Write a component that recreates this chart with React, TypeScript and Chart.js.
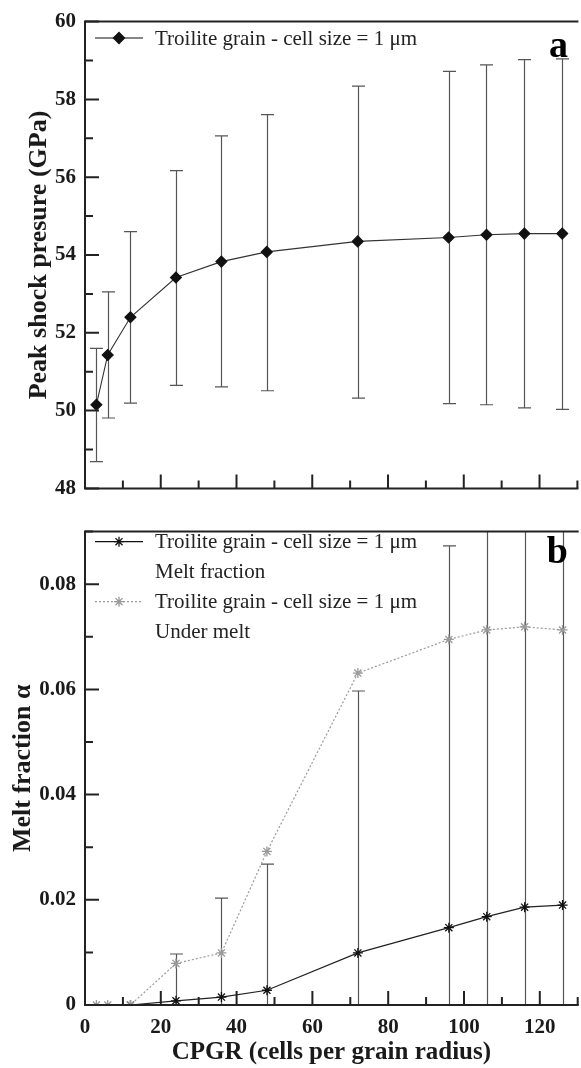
import React, { useEffect, useRef } from 'react';
import { Chart, registerables } from 'chart.js';
import { drawPoint } from 'chart.js/helpers';

Chart.register(...registerables);

// ---------- data ----------
const cpgrA = [3, 6, 12, 24, 36, 48, 72, 96, 106, 116, 126];
const pressureMean = [50.15, 51.43, 52.4, 53.42, 53.83, 54.08, 54.35, 54.45, 54.52, 54.55, 54.55];
const pressureHigh = [51.6, 53.05, 54.6, 56.17, 57.06, 57.61, 58.34, 58.72, 58.89, 59.02, 59.04];
const pressureLow = [48.69, 49.81, 50.19, 50.65, 50.61, 50.51, 50.32, 50.18, 50.15, 50.07, 50.03];

const cpgrMelt = [12, 24, 36, 48, 72, 96, 106, 116, 126];
const meltFraction = [0, 0.0008, 0.0015, 0.0028, 0.0099, 0.0147, 0.0168, 0.0186, 0.019];
const cpgrUnder = [3, 6, 12, 24, 36, 48, 72, 96, 106, 116, 126];
const underMelt = [0, 0, 0, 0.0079, 0.0099, 0.0292, 0.0631, 0.0695, 0.0713, 0.0719, 0.0713];
const cpgrErrB = [24, 36, 48, 72, 96, 106, 116, 126];
const meltHigh = [0.0097, 0.0203, 0.0268, 0.0597, 0.0873, 0.1, 0.11, 0.12];
const meltLow = [-0.008, -0.017, -0.021, -0.04, -0.058, -0.07, -0.08, -0.09];

const xMajorTicks = [0, 20, 40, 60, 80, 100, 120];
const xMinorTicks = [10, 30, 50, 70, 90, 110, 130];
const yMajorTicksA = [48, 50, 52, 54, 56, 58, 60];
const yMinorTicksA = [49, 51, 53, 55, 57, 59];
const yMajorTicksB = [0, 0.02, 0.04, 0.06, 0.08];
const yMinorTicksB = [0.01, 0.03, 0.05, 0.07, 0.09];

const legendLabel = 'Troilite grain - cell size = 1 μm';

const SERIF = '"Liberation Serif", "Times New Roman", serif';
const AXIS = '#222';

// ---------- plugins ----------
function errorBarPlugin(xs: number[], lo: number[], hi: number[]) {
  return {
    id: 'errbars',
    beforeDatasetsDraw(chart: any) {
      const { ctx, chartArea } = chart;
      const sx = chart.scales.x;
      const sy = chart.scales.y;
      ctx.save();
      ctx.beginPath();
      ctx.rect(chartArea.left, chartArea.top, chartArea.right - chartArea.left, chartArea.bottom - chartArea.top);
      ctx.clip();
      ctx.strokeStyle = '#555';
      ctx.lineWidth = 1.2;
      xs.forEach((xv, i) => {
        const px = Math.round(sx.getPixelForValue(xv)) + 0.5;
        const pl = sy.getPixelForValue(lo[i]);
        const ph = sy.getPixelForValue(hi[i]);
        ctx.beginPath();
        ctx.moveTo(px, pl);
        ctx.lineTo(px, ph);
        ctx.moveTo(px - 6.5, ph);
        ctx.lineTo(px + 6.5, ph);
        ctx.moveTo(px - 6.5, pl);
        ctx.lineTo(px + 6.5, pl);
        ctx.stroke();
      });
      ctx.restore();
    },
  };
}

function framePlugin(yMajor: number[], yMinor: number[]) {
  return {
    id: 'frame',
    afterDraw(chart: any) {
      const { ctx, chartArea } = chart;
      const { left, right, top, bottom } = chartArea;
      const sx = chart.scales.x;
      const sy = chart.scales.y;
      ctx.save();
      ctx.strokeStyle = AXIS;
      ctx.lineWidth = 2;
      ctx.lineCap = 'square';
      ctx.beginPath();
      ctx.moveTo(left, top);
      ctx.lineTo(right, top);
      ctx.moveTo(left, top);
      ctx.lineTo(left, bottom);
      ctx.lineTo(right, bottom);
      ctx.stroke();
      ctx.lineCap = 'butt';
      ctx.beginPath();
      xMajorTicks.forEach((v) => {
        const p = sx.getPixelForValue(v);
        ctx.moveTo(p, bottom);
        ctx.lineTo(p, bottom - 14);
      });
      xMinorTicks.forEach((v) => {
        const p = sx.getPixelForValue(v);
        ctx.moveTo(p, bottom);
        ctx.lineTo(p, bottom - 8);
      });
      yMajor.forEach((v) => {
        const p = sy.getPixelForValue(v);
        ctx.moveTo(left, p);
        ctx.lineTo(left + 14, p);
      });
      yMinor.forEach((v) => {
        const p = sy.getPixelForValue(v);
        ctx.moveTo(left, p);
        ctx.lineTo(left + 8, p);
      });
      ctx.stroke();
      ctx.restore();
    },
  };
}

type LegendRow = { text: string; color?: string; dash?: number[]; style?: string };

function legendPlugin(rows: LegendRow[], firstY: number, panelLetter: string, letterY: number) {
  return {
    id: 'customLegend',
    afterDraw(chart: any) {
      const { ctx, chartArea } = chart;
      const x0 = chartArea.left + 10;
      const x1 = chartArea.left + 58;
      const tx = chartArea.left + 70;
      ctx.save();
      rows.forEach((r, i) => {
        const y = firstY + i * 30;
        if (r.color) {
          ctx.strokeStyle = r.color;
          ctx.fillStyle = r.color;
          ctx.lineWidth = 1.2;
          ctx.setLineDash(r.dash || []);
          ctx.beginPath();
          ctx.moveTo(x0, y);
          ctx.lineTo(x1, y);
          ctx.stroke();
          ctx.setLineDash([]);
          ctx.lineWidth = 1.3;
          drawPoint(ctx, { pointStyle: r.style, radius: r.style === 'rectRot' ? 5.5 : 5, rotation: 0, borderWidth: 1.3 } as any, (x0 + x1) / 2, y);
        }
        ctx.fillStyle = '#222';
        ctx.font = `21px ${SERIF}`;
        ctx.textAlign = 'left';
        ctx.textBaseline = 'middle';
        ctx.fillText(r.text, tx, y + 1);
      });
      ctx.fillStyle = '#000';
      ctx.font = `bold 38px ${SERIF}`;
      ctx.textAlign = 'right';
      ctx.textBaseline = 'alphabetic';
      ctx.fillText(panelLetter, 568, letterY);
      ctx.restore();
    },
  };
}

function fixedTicks(values: number[]) {
  return (scale: any) => {
    scale.ticks = values.map((v) => ({ value: v }));
  };
}

const tickFont = { family: SERIF, size: 21, weight: 'bold' as const };
const titleFontA = { family: SERIF, size: 26, weight: 'bold' as const, lineHeight: 1.2 };
const titleFontB = { family: SERIF, size: 26, weight: 'bold' as const, lineHeight: 1.2 };
const titleFontX = { family: SERIF, size: 25, weight: 'bold' as const, lineHeight: 1.2 };

export default function App() {
  const refA = useRef<HTMLCanvasElement>(null);
  const refB = useRef<HTMLCanvasElement>(null);

  useEffect(() => {
    const chartA = new Chart(refA.current!, {
      type: 'line',
      data: {
        datasets: [
          {
            data: cpgrA.map((x, i) => ({ x, y: pressureMean[i] })),
            borderColor: '#333',
            borderWidth: 1.1,
            pointStyle: 'rectRot',
            pointRadius: 5.5,
            pointBackgroundColor: '#111',
            pointBorderColor: '#111',
            tension: 0,
          },
        ],
      },
      options: {
        animation: false,
        responsive: false,
        devicePixelRatio: 1,
        layout: { padding: { top: 18, bottom: 8, left: 0, right: 0 } },
        plugins: { legend: { display: false }, tooltip: { enabled: false } },
        scales: {
          x: { type: 'linear', min: 0, max: 130, display: false },
          y: {
            type: 'linear',
            min: 48,
            max: 60,
            afterBuildTicks: fixedTicks(yMajorTicksA),
            afterFit: (s: any) => { s.width = 85; },
            grid: { display: false, drawTicks: false },
            border: { display: false },
            ticks: { font: tickFont, color: '#1a1a1a', padding: 9, callback: (v: any) => String(v) },
            title: { display: true, text: 'Peak shock presure (GPa)', font: titleFontA, color: '#1a1a1a', padding: { top: 24, bottom: 0 } },
          },
        },
      },
      plugins: [
        errorBarPlugin(cpgrA, pressureLow, pressureHigh),
        framePlugin(yMajorTicksA, yMinorTicksA),
        legendPlugin([{ text: legendLabel, color: '#111', style: 'rectRot' }], 38, 'a', 57),
      ],
    } as any);

    const chartB = new Chart(refB.current!, {
      type: 'line',
      data: {
        datasets: [
          {
            data: cpgrMelt.map((x, i) => ({ x, y: meltFraction[i] })),
            borderColor: '#222',
            borderWidth: 1.2,
            pointStyle: 'star',
            pointRadius: 5,
            pointBorderWidth: 1.3,
            pointBorderColor: '#111',
            pointBackgroundColor: '#111',
            tension: 0,
            order: 1,
          },
          {
            data: cpgrUnder.map((x, i) => ({ x, y: underMelt[i] })),
            borderColor: '#9a9a9a',
            borderWidth: 1.2,
            borderDash: [2, 2],
            pointStyle: 'star',
            pointRadius: 5,
            pointBorderWidth: 1.3,
            pointBorderColor: '#999',
            pointBackgroundColor: '#999',
            tension: 0,
            order: 0,
          },
        ],
      },
      options: {
        animation: false,
        responsive: false,
        devicePixelRatio: 1,
        layout: { padding: { top: 11, bottom: 0, left: 0, right: 0 } },
        plugins: { legend: { display: false }, tooltip: { enabled: false } },
        scales: {
          x: {
            type: 'linear',
            min: 0,
            max: 130,
            afterBuildTicks: fixedTicks(xMajorTicks),
            afterFit: (s: any) => { s.height = 63; },
            grid: { display: false, drawTicks: false },
            border: { display: false },
            ticks: { font: tickFont, color: '#1a1a1a', padding: 10, maxRotation: 0, callback: (v: any) => String(v) },
            title: { display: true, text: 'CPGR (cells per grain radius)', font: titleFontX, color: '#1a1a1a', padding: { top: 0, bottom: 0 } },
          },
          y: {
            type: 'linear',
            min: 0,
            max: 0.09,
            afterBuildTicks: fixedTicks(yMajorTicksB),
            afterFit: (s: any) => { s.width = 85; },
            grid: { display: false, drawTicks: false },
            border: { display: false },
            ticks: { font: tickFont, color: '#1a1a1a', padding: 9, callback: (v: any) => (v === 0 ? '0' : Number(v).toFixed(2)) },
            title: { display: true, text: 'Melt fraction α', font: titleFontB, color: '#1a1a1a', padding: { top: 8, bottom: 0 } },
          },
        },
      },
      plugins: [
        errorBarPlugin(cpgrErrB, meltLow, meltHigh),
        framePlugin(yMajorTicksB, yMinorTicksB),
        legendPlugin(
          [
            { text: legendLabel, color: '#111', style: 'star' },
            { text: 'Melt fraction' },
            { text: legendLabel, color: '#9a9a9a', style: 'star', dash: [2, 2] },
            { text: 'Under melt' },
          ],
          31.7,
          'b',
          53
        ),
      ],
    } as any);

    return () => {
      chartA.destroy();
      chartB.destroy();
    };
  }, []);

  return (
    <div style={{ position: 'absolute', left: 0, top: 0, width: 581, height: 1068, overflow: 'hidden', background: '#fff' }}>
      <canvas ref={refA} width={584} height={510} style={{ position: 'absolute', left: 0, top: 0, width: 584, height: 510 }} />
      <canvas ref={refB} width={584} height={558} style={{ position: 'absolute', left: 0, top: 510, width: 584, height: 558 }} />
    </div>
  );
}
